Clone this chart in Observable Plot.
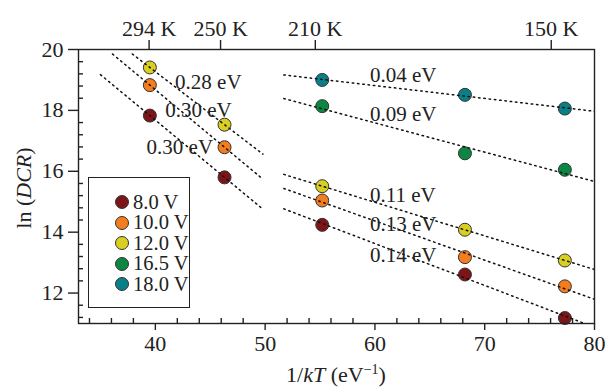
<!DOCTYPE html>
<html>
<head>
<meta charset="utf-8">
<script src="https://cdn.jsdelivr.net/npm/d3@7"></script>
<script src="https://cdn.jsdelivr.net/npm/@observablehq/plot@0.6"></script>
<style>
  html, body { margin: 0; padding: 0; background: #fff; }
  #wrap { position: relative; width: 607px; height: 387px; font-family: "Liberation Serif", "DejaVu Serif", serif; color: #222; }
  #legend { position: absolute; left: 88px; top: 177px; width: 102px; height: 131px; border: 1.4px solid #222; background: #fff; box-sizing: border-box; }
  .row { position: absolute; left: 0; height: 19px; display: flex; align-items: center; font-size: 20.5px; white-space: nowrap; line-height: 19px; }
  .sw { flex: none; width: 12px; height: 12px; border-radius: 50%; border: 1px solid #333; margin-left: 26px; margin-right: 4px; }
</style>
</head>
<body>
<div id="wrap"></div>
<script>
// ---- data ----
const voltages = ["8.0 V", "10.0 V", "12.0 V", "16.5 V", "18.0 V"];
const colors = ["#7d1518", "#f47d20", "#d9cf22", "#0b8742", "#0b7f87"];
const invKT = [39.5, 46.3, 55.2, 68.2, 77.3];           // 1/kT (eV^-1)
const lnDCR_8_0  = [17.83, 15.80, 14.24, 12.61, 11.18];
const lnDCR_10_0 = [18.83, 16.79, 15.04, 13.18, 12.22];
const lnDCR_12_0 = [19.41, 17.53, 15.51, 14.08, 13.07];
const lnDCR_16_5 = [null, null, 18.14, 16.59, 16.05];
const lnDCR_18_0 = [null, null, 19.00, 18.51, 18.06];
const seriesValues = [lnDCR_8_0, lnDCR_10_0, lnDCR_12_0, lnDCR_16_5, lnDCR_18_0];

// fit groups: high-temperature (columns 0-1), low-temperature (columns 2-4)
const highTCols = [0, 1];
const lowTCols = [2, 3, 4];
const highTFitRange = [[35.0, 49.6], [36.1, 49.8], [37.9, 49.8], null, null];
const lowTFitRange = [51.7, 80.5];

const xMajorTicks = [40, 50, 60, 70, 80];
const xMinorTicks = [34, 36, 38, 42, 44, 46, 48, 52, 54, 56, 58, 62, 64, 66, 68, 72, 74, 76, 78];
const yMajorTicks = [12, 14, 16, 18, 20];
const yMinorTicks = [11.2, 11.6, 12.4, 12.8, 13.2, 13.6, 14.4, 14.8, 15.2, 15.6, 16.4, 16.8, 17.2, 17.6, 18.4, 18.8, 19.2, 19.6];
const topTickPos = [39.43, 45.94, 54.57, 76.06];
const topTickLabels = ["294 K", "250 K", "210 K", "150 K"];

const energyLabels = ["0.28 eV", "0.30 eV", "0.30 eV", "0.04 eV", "0.09 eV", "0.11 eV", "0.13 eV", "0.14 eV"];
const energyLabelX = [41.8, 40.9, 39.2, 59.55, 59.55, 59.55, 59.55, 59.55];
const energyLabelY = [18.92, 17.99, 16.79, 19.14, 17.86, 15.2, 14.25, 13.23];

// ---- build tables ----
const points = [];
seriesValues.forEach((vals, s) => vals.forEach((v, i) => {
  if (v != null) points.push({series: voltages[s], x: invKT[i], y: v});
}));

function fit(cols, vals) {
  const xs = cols.map(i => invKT[i]), ys = cols.map(i => vals[i]);
  const mx = d3.mean(xs), my = d3.mean(ys);
  let sxx = 0, sxy = 0;
  xs.forEach((x, k) => { sxx += (x - mx) ** 2; sxy += (x - mx) * (ys[k] - my); });
  const b = sxy / sxx;
  return x => my + b * (x - mx);
}
const fitLines = [];
seriesValues.forEach((vals, s) => {
  if (highTFitRange[s]) {
    const f = fit(highTCols, vals);
    highTFitRange[s].forEach(x => fitLines.push({key: "h" + s, x, y: f(x)}));
  }
  const g = fit(lowTCols, vals);
  lowTFitRange.forEach(x => fitLines.push({key: "l" + s, x, y: g(x)}));
});
const annotations = energyLabels.map((t, i) => ({t, x: energyLabelX[i], y: energyLabelY[i]}));
const topMap = new Map(topTickPos.map((p, i) => [p, topTickLabels[i]]));

const svg = Plot.plot({
  width: 607, height: 387,
  marginLeft: 78, marginRight: 13, marginTop: 49, marginBottom: 64,
  x: {domain: [33, 80]},
  y: {domain: [11, 20]},
  color: {domain: voltages, range: colors},
  style: {fontFamily: "'Liberation Serif', 'DejaVu Serif', serif", fontSize: "22px", color: "#222", background: "#fff"},
  marks: [
    Plot.axisX(xMajorTicks, {anchor: "bottom", tickSize: 7, tickPadding: 5, tickFormat: d => String(d), label: null, fontSize: 22, strokeWidth: 1.4}),
    Plot.axisX(xMinorTicks, {anchor: "bottom", tickSize: -5, tickFormat: () => "", label: null, strokeWidth: 1.4}),
    Plot.axisX(topTickPos, {anchor: "top", tickSize: 10, tickPadding: 4, tickFormat: d => topMap.get(d), label: null, fontSize: 22, strokeWidth: 1.4}),
    Plot.axisY(yMajorTicks, {anchor: "left", tickSize: 10, tickPadding: 5, tickFormat: d => String(d), label: null, fontSize: 22, strokeWidth: 1.4}),
    Plot.axisY(yMinorTicks, {anchor: "left", tickSize: -5, tickFormat: () => "", label: null, strokeWidth: 1.4}),
    Plot.dot(points, {x: "x", y: "y", r: 6.5, fill: "series", stroke: "#333", strokeWidth: 1}),
    Plot.line(fitLines, {x: "x", y: "y", z: "key", stroke: "#111", strokeWidth: 1.5, strokeDasharray: "1.5 3.8", clip: true}),
    Plot.text(annotations, {x: "x", y: "y", text: "t", textAnchor: "start", fontSize: 21, fill: "#222"}),
    Plot.frame({stroke: "#222", strokeWidth: 1.4})
  ]
});

const s = d3.select(svg);
const xl = s.append("text").attr("x", 336).attr("y", 382).attr("text-anchor", "middle")
  .attr("font-size", 22).attr("fill", "#222");
xl.append("tspan").text("1/");
xl.append("tspan").attr("font-style", "italic").text("kT");
xl.append("tspan").text(" (eV");
xl.append("tspan").attr("font-size", 14).attr("dy", -8).text("−1");
xl.append("tspan").attr("dy", 8).text(")");

const yl = s.append("text").attr("transform", "translate(31,188) rotate(-90)").attr("text-anchor", "middle")
  .attr("font-size", 22).attr("fill", "#222");
yl.append("tspan").text("ln (");
yl.append("tspan").attr("font-style", "italic").text("DCR");
yl.append("tspan").text(")");

const wrap = document.getElementById("wrap");
wrap.appendChild(svg);
const leg = document.createElement("div");
leg.id = "legend";
voltages.forEach((v, i) => {
  const r = document.createElement("div");
  r.className = "row";
  r.style.top = (14.5 + i * 20.5) + "px";
  const sw = document.createElement("span");
  sw.className = "sw";
  sw.style.background = colors[i];
  const t = document.createElement("span");
  t.textContent = v;
  r.appendChild(sw); r.appendChild(t);
  leg.appendChild(r);
});
wrap.appendChild(leg);
</script>
</body>
</html>
